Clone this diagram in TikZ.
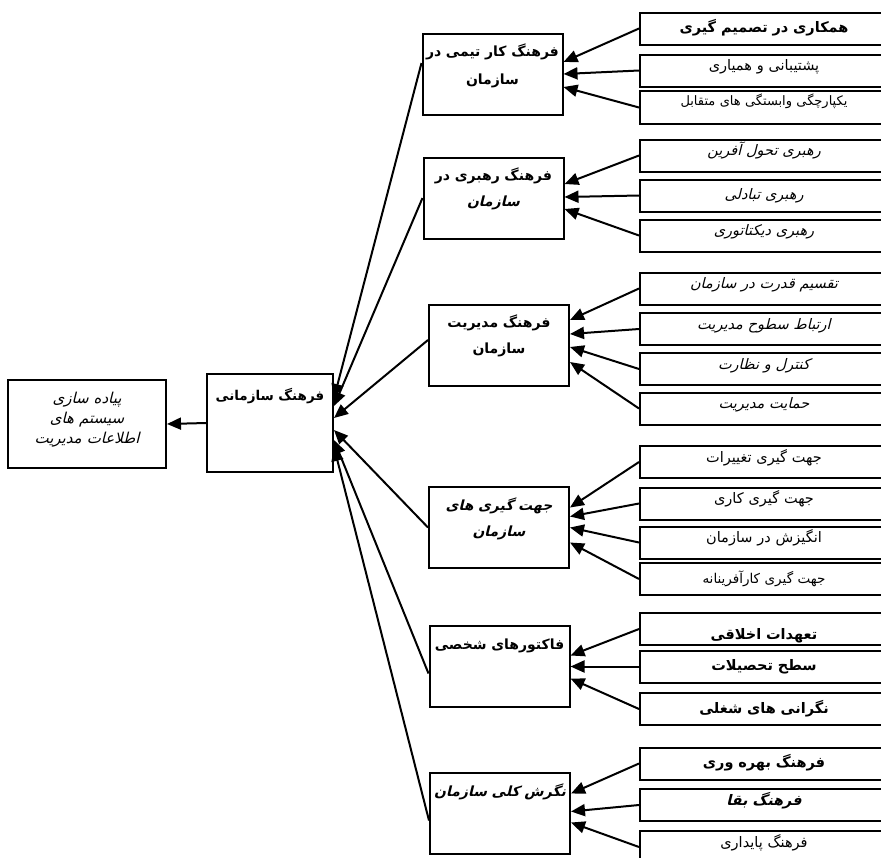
\documentclass[tikz,border=0pt]{standalone}
\usepackage{fontspec}
\usetikzlibrary{arrows.meta,calc}
\TeXXeTstate=1
\newfontfamily\fa[Script=Arabic]{DejaVu Sans}
\newfontfamily\fasl[Script=Arabic,FakeSlant=0.25]{DejaVu Sans}
\newfontfamily\fasp[Script=Arabic,WordSpace=3]{DejaVu Sans}
\newfontfamily\faspsl[Script=Arabic,WordSpace=3,FakeSlant=0.25]{DejaVu Sans}
\newcommand{\rtl}[1]{\beginR #1\endR}

\begin{document}
\begin{tikzpicture}
[x=1pt,y=-1pt,
 box/.style={draw,line width=2pt,inner sep=0pt,align=center},
 rbox/.style={box,minimum width=248pt,text width=240pt,text height=16pt,text depth=16pt},
 rlow/.style={text height=20pt,text depth=12pt},
 mbox/.style={box,minimum width=140pt,text width=136pt,text height=23pt,text depth=58pt},
 boldtxt/.style={font=\fa\bfseries\fontsize{14.5}{16}\selectfont},
 plaintxt/.style={font=\fasp\fontsize{14.5}{16}\selectfont},
 slanttxt/.style={font=\faspsl\fontsize{14.5}{16}\selectfont},
 boldslant/.style={font=\fasl\bfseries\fontsize{14.5}{16}\selectfont},
 arr/.style={-{Triangle[length=14pt,width=12pt]},line width=2pt}]
\useasboundingbox (0,0) rectangle (881,857);
\clip (0,0) rectangle (881,857);
% goal and main factor
\node[box,minimum width=158pt,text width=154pt,text height=23pt,text depth=65pt,
  font=\faspsl\fontsize{15}{20}\selectfont] (L) at (87,424)
  {\rtl{پیاده سازی}\\\rtl{سیستم های}\\\rtl{اطلاعات مدیریت}};
\node[box,minimum width=126pt,text width=122pt,text height=26pt,text depth=72pt,
  font=\fa\bfseries\fontsize{13.5}{20}\selectfont] (C) at (270,423) {\rtl{فرهنگ سازمانی}};
% middle column
\node[mbox,font=\fa\bfseries\fontsize{14}{28}\selectfont] (m1) at (492.5,74)
  {\rtl{فرهنگ کار تیمی در}\\\rtl{سازمان}};
\node[mbox,font=\fa\bfseries\fontsize{14}{26}\selectfont] (m2) at (493.5,198)
  {\rtl{فرهنگ رهبری در}\\{\fasl\rtl{سازمان}}};
\node[mbox,font=\fa\bfseries\fontsize{14}{26}\selectfont] (m3) at (499,345)
  {\rtl{فرهنگ مدیریت}\\\rtl{سازمان}};
\node[mbox,font=\fasl\bfseries\fontsize{14}{26}\selectfont] (m4) at (499,527.5)
  {\rtl{جهت گیری های}\\\rtl{سازمان}};
\node[mbox,font=\fa\bfseries\fontsize{14}{26}\selectfont] (m5) at (499.5,666.5)
  {\rtl{فاکتورهای شخصی}};
\node[mbox,font=\fasl\bfseries\fontsize{14}{26}\selectfont] (m6) at (500,813.5)
  {\rtl{نگرش کلی سازمان}};
% team work
\node[rbox,rlow,boldtxt] (r1a) at (764,28.5) {\rtl{همکاری در تصمیم گیری}};
\node[rbox,plaintxt] (r1b) at (764,70.5) {\rtl{پشتیبانی و همیاری}};
\node[rbox,font=\fasp\fontsize{13}{16}\selectfont,text height=14pt,text depth=19pt] (r1c) at (764,107.5) {\rtl{یکپارچگی وابستگی های متقابل}};
% leadership
\node[rbox,slanttxt] (r2a) at (764,155.5) {\rtl{رهبری تحول آفرین}};
\node[rbox,rlow,slanttxt] (r2b) at (764,195.5) {\rtl{رهبری تبادلی}};
\node[rbox,slanttxt] (r2c) at (764,235.5) {\rtl{رهبری دیکتاتوری}};
% management
\node[rbox,slanttxt] (r3a) at (764,288.5) {\rtl{تقسیم قدرت در سازمان}};
\node[rbox,slanttxt] (r3b) at (764,329) {\rtl{ارتباط سطوح مدیریت}};
\node[rbox,slanttxt] (r3c) at (764,369) {\rtl{کنترل و نظارت}};
\node[rbox,slanttxt] (r3d) at (764,408.5) {\rtl{حمایت مدیریت}};
% orientations
\node[rbox,plaintxt] (r4a) at (764,462) {\rtl{جهت گیری تغییرات}};
\node[rbox,plaintxt] (r4b) at (764,503.5) {\rtl{جهت گیری کاری}};
\node[rbox,plaintxt] (r4c) at (764,542.5) {\rtl{انگیزش در سازمان}};
\node[rbox,rlow,font=\fa\fontsize{13.5}{16}\selectfont] (r4d) at (764,579) {\rtl{جهت گیری کارآفرینانه}};
% personal factors
\node[rbox,boldtxt,text height=26pt,text depth=6pt] (r5a) at (764,629) {\rtl{تعهدات اخلاقی}};
\node[rbox,rlow,boldtxt] (r5b) at (764,666.5) {\rtl{سطح تحصیلات}};
\node[rbox,rlow,boldtxt] (r5c) at (764,709) {\rtl{نگرانی های شغلی}};
% overall view
\node[rbox,rlow,boldtxt] (r6a) at (764,763.5) {\rtl{فرهنگ بهره وری}};
\node[rbox,boldslant] (r6b) at (764,805) {\rtl{فرهنگ بقا}};
\node[rbox,plaintxt] (r6c) at (764,847) {\rtl{فرهنگ پایداری}};
% arrows into the middle column
\draw[arr] (r1a.west) -- ($(m1.east)+(0,-12)$);
\draw[arr] (r1b.west) -- (m1.east);
\draw[arr] (r1c.west) -- ($(m1.east)+(0,13)$);
\draw[arr] (r2a.west) -- ($(m2.east)+(0,-14)$);
\draw[arr] (r2b.west) -- ($(m2.east)+(0,-1)$);
\draw[arr] (r2c.west) -- ($(m2.east)+(0,11)$);
\draw[arr] (r3a.west) -- ($(m3.east)+(0,-25)$);
\draw[arr] (r3b.west) -- ($(m3.east)+(0,-11)$);
\draw[arr] (r3c.west) -- ($(m3.east)+(0,2)$);
\draw[arr] (r3d.west) -- ($(m3.east)+(0,17)$);
\draw[arr] (r4a.west) -- ($(m4.east)+(0,-20)$);
\draw[arr] (r4b.west) -- ($(m4.east)+(0,-11)$);
\draw[arr] (r4c.west) -- (m4.east);
\draw[arr] (r4d.west) -- ($(m4.east)+(0,15)$);
\draw[arr] (r5a.west) -- ($(m5.east)+(0,-11)$);
\draw[arr] (r5b.west) -- (m5.east);
\draw[arr] (r5c.west) -- ($(m5.east)+(0,12)$);
\draw[arr] (r6a.west) -- ($(m6.east)+(0,-20)$);
\draw[arr] (r6b.west) -- ($(m6.east)+(0,-2)$);
\draw[arr] (r6c.west) -- ($(m6.east)+(0,9)$);
% arrows into the main factor
\draw[arr] ($(m1.west)+(0,-11)$) -- ($(C.east)+(0,-25)$);
\draw[arr] (m2.west) -- ($(C.east)+(0,-17)$);
\draw[arr] ($(m3.west)+(0,-5)$) -- ($(C.east)+(0,-5)$);
\draw[arr] (m4.west) -- ($(C.east)+(0,7)$);
\draw[arr] ($(m5.west)+(0,7)$) -- ($(C.east)+(0,17)$);
\draw[arr] ($(m6.west)+(0,7)$) -- ($(C.east)+(0,24)$);
\draw[arr] (C.west) -- (L.east);
\end{tikzpicture}
\end{document}
